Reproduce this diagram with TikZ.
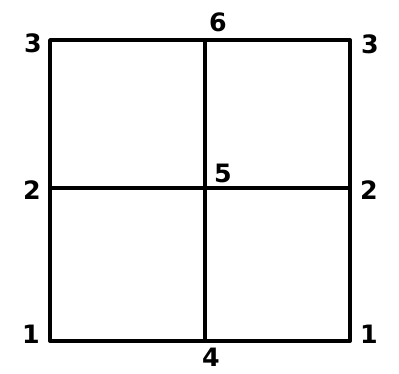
\documentclass[tikz,border=0pt]{standalone}
\usepackage{fontspec}
\setsansfont{DejaVu Sans}
\usepackage{tikz}
\usetikzlibrary{positioning, calc}
\definecolor{mydark}{RGB}{0,0,0}
\tikzset{
  frameline/.style={line width=2.2pt, color=mydark, line cap=round, line join=round},
  numlabel/.style={font=\sffamily\bfseries\Large, color=mydark, inner sep=0pt}
}
\begin{document}
\begin{tikzpicture}[x=0.02cm, y=-0.02cm]
  \useasboundingbox (0,0) rectangle (399,373);
  % Grid points
  \coordinate (p1l) at (50,341);
  \coordinate (p1r) at (350,341);
  \coordinate (p2l) at (50,188);
  \coordinate (p2r) at (350,188);
  \coordinate (p3l) at (50,40);
  \coordinate (p3r) at (350,40);
  \coordinate (p4) at (205,341);
  \coordinate (p5) at (205,188);
  \coordinate (p6) at (205,40);

  % Outer square and cross
  \draw[frameline] (p1l) -- (p1r) -- (p3r) -- (p3l) -- cycle;
  \draw[frameline] (p4) -- (p6);
  \draw[frameline] (p2l) -- (p2r);

  % Numbers
  \node[numlabel] (n3l) at (33,43) {3};
  \node[numlabel] (n3r) at (370,44) {3};
  \node[numlabel] (n6) at (218,22) {6};
  \node[numlabel] (n2l) at (32,190) {2};
  \node[numlabel] (n2r) at (369,190) {2};
  \node[numlabel] (n5) at (223,173) {5};
  \node[numlabel] (n1l) at (31,334) {1};
  \node[numlabel] (n1r) at (369,334) {1};
  \node[numlabel] (n4) at (211,357) {4};
\end{tikzpicture}
\end{document}
